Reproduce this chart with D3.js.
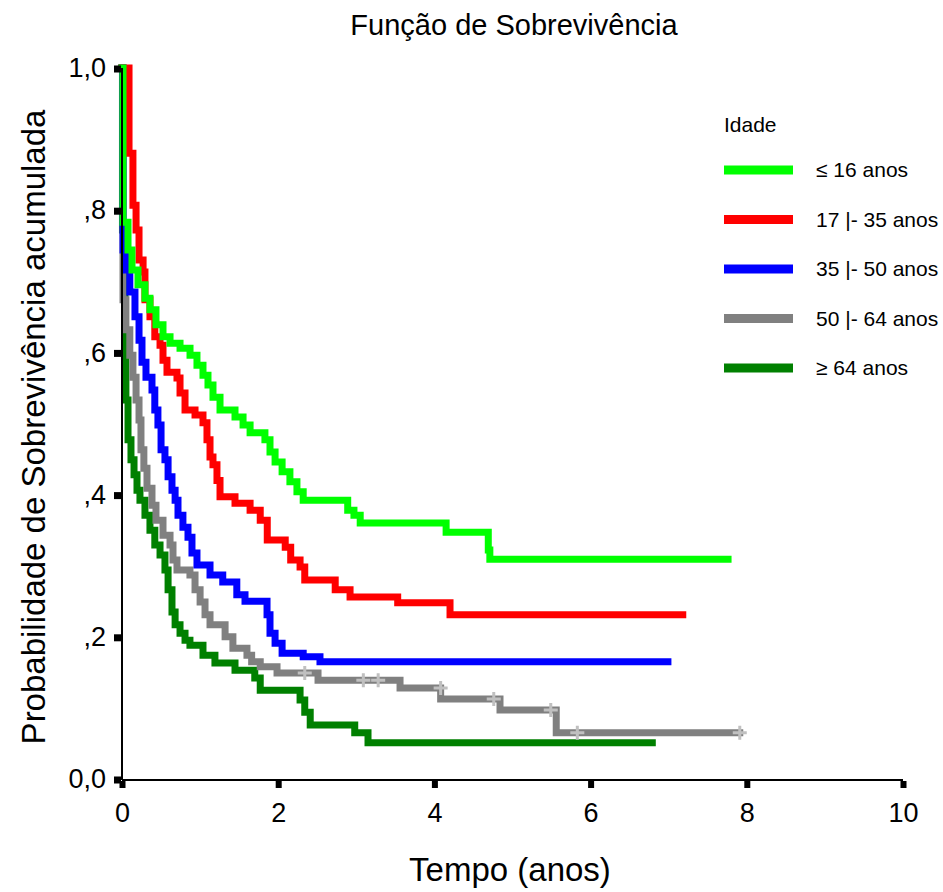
<!DOCTYPE html>
<html>
<head>
<meta charset="utf-8">
<script src="https://cdn.jsdelivr.net/npm/d3@7"></script>
<style>
  body { margin: 0; background: #fff; }
  text { font-family: "Liberation Sans", Arial, sans-serif; fill: #000; }
</style>
</head>
<body>
<div id="grafico"></div>
<script>
// Kaplan-Meier: [tempo, S(t) depois do degrau]
const ate16 = [[0,1],[0.013,0.783],[0.077,0.744],[0.128,0.716],[0.205,0.695],[0.294,0.676],[0.358,0.66],[0.435,0.639],[0.525,0.622],[0.615,0.613],[0.743,0.606],[0.871,0.596],[0.96,0.582],[1.037,0.568],[1.101,0.554],[1.165,0.537],[1.255,0.519],[1.447,0.509],[1.55,0.498],[1.64,0.487],[1.83,0.477],[1.895,0.46],[1.96,0.446],[2.05,0.432],[2.15,0.418],[2.24,0.404],[2.32,0.392],[2.89,0.378],[2.97,0.371],[3.05,0.36],[4.15,0.347],[4.69,0.322],[4.71,0.309],[7.76,0.309]];
const de17a35 = [[0,1],[0.09,0.88],[0.14,0.807],[0.18,0.772],[0.218,0.73],[0.27,0.713],[0.294,0.674],[0.358,0.65],[0.42,0.622],[0.487,0.61],[0.525,0.589],[0.576,0.572],[0.704,0.564],[0.743,0.543],[0.807,0.519],[0.935,0.512],[1.037,0.501],[1.088,0.477],[1.127,0.453],[1.165,0.442],[1.216,0.42],[1.255,0.397],[1.447,0.388],[1.64,0.378],[1.77,0.364],[1.86,0.336],[2.09,0.326],[2.16,0.308],[2.28,0.298],[2.34,0.28],[2.73,0.266],[2.92,0.256],[3.53,0.248],[4.2,0.231],[7.18,0.231]];
const de35a50 = [[0,1],[0.013,0.744],[0.05,0.716],[0.1,0.685],[0.166,0.65],[0.218,0.617],[0.256,0.586],[0.307,0.565],[0.384,0.547],[0.42,0.519],[0.46,0.498],[0.5,0.463],[0.55,0.449],[0.59,0.425],[0.64,0.406],[0.68,0.392],[0.717,0.371],[0.78,0.354],[0.845,0.34],[0.896,0.318],[0.96,0.301],[1.127,0.287],[1.29,0.277],[1.47,0.259],[1.575,0.25],[1.857,0.231],[1.895,0.205],[1.96,0.191],[2.05,0.177],[2.32,0.172],[2.535,0.165],[6.99,0.165]];
const de50a64 = [[0,1],[0.013,0.674],[0.05,0.632],[0.1,0.596],[0.14,0.565],[0.18,0.533],[0.218,0.505],[0.243,0.463],[0.28,0.437],[0.32,0.409],[0.384,0.385],[0.435,0.364],[0.525,0.343],[0.615,0.329],[0.653,0.308],[0.704,0.294],[0.87,0.287],[0.935,0.266],[1.0,0.249],[1.063,0.231],[1.127,0.217],[1.32,0.2],[1.42,0.184],[1.6,0.174],[1.66,0.165],[1.77,0.158],[1.985,0.149],[2.51,0.139],[3.56,0.128],[4.08,0.1125],[4.84,0.097],[5.56,0.065],[7.91,0.065]];
const acima64 = [[0,1],[0.006,0.772],[0.025,0.688],[0.038,0.603],[0.05,0.533],[0.077,0.477],[0.115,0.449],[0.154,0.428],[0.192,0.406],[0.23,0.392],[0.294,0.371],[0.358,0.35],[0.42,0.329],[0.487,0.315],[0.55,0.294],[0.59,0.266],[0.64,0.235],[0.68,0.217],[0.743,0.205],[0.807,0.195],[0.87,0.188],[1.037,0.174],[1.19,0.163],[1.447,0.153],[1.7,0.142],[1.77,0.125],[2.28,0.111],[2.34,0.094],[2.41,0.076],[2.98,0.065],[3.15,0.051],[6.79,0.051]];
// censuras (grupo 50 |- 64)
const censuras = [[2.34,0.149],[3.09,0.139],[3.28,0.139],[4.08,0.128],[4.76,0.1125],[5.49,0.097],[5.83,0.065],[7.91,0.065]];

const grupos = ["\u2264 16 anos", "17 |- 35 anos", "35 |- 50 anos", "50 |- 64 anos", "\u2265 64 anos"];
const cores = ["#00ff00", "#ff0000", "#0000ff", "#808080", "#008000"];
const series = [ate16, de17a35, de35a50, de50a64, acima64];
const xTicks = [0, 2, 4, 6, 8, 10];
const yTicks = [0, 0.2, 0.4, 0.6, 0.8, 1.0];
const yLabels = ["0,0", ",2", ",4", ",6", ",8", "1,0"];

const width = 943, height = 892;
const svg = d3.select("#grafico").append("svg")
  .attr("width", width).attr("height", height);

const x = d3.scaleLinear().domain([0, 10]).range([122, 903]);
const y = d3.scaleLinear().domain([0, 1]).range([779, 68]);

// titulo
svg.append("text").attr("x", 514).attr("y", 35).attr("text-anchor", "middle")
  .style("font-size", "29px").text("Função de Sobrevivência");

// curvas (desenha de tras para frente)
const linha = d3.line().x(d => x(d[0])).y(d => y(d[1])).curve(d3.curveStepAfter);
for (let i = series.length - 1; i >= 0; i--) {
  svg.append("path").datum(series[i])
    .attr("d", linha)
    .attr("fill", "none")
    .attr("stroke", cores[i])
    .attr("stroke-width", 7)
    .attr("stroke-linejoin", "miter")
    .attr("stroke-linecap", "square");
}

// marcas de censura
svg.append("g").selectAll("path").data(censuras).enter().append("path")
  .attr("d", d => {
    const cx = x(d[0]), cy = y(d[1]), r = 7;
    return `M${cx - r},${cy}H${cx + r}M${cx},${cy - r}V${cy + r}`;
  })
  .attr("stroke", "#c0c0c0").attr("stroke-width", 3).attr("fill", "none");

// eixos
const xAxis = d3.axisBottom(x).tickValues(xTicks).tickSize(0).tickPadding(23);
const gx = svg.append("g").attr("transform", "translate(0,780)").call(xAxis);
gx.select(".domain").attr("stroke", "#000").attr("stroke-width", 2).attr("d", `M${x(0)},0H${x(10)}`);
gx.selectAll(".tick text").style("font-size", "27px").attr("fill", "#000");
gx.selectAll(".tick").append("rect").attr("x", -3).attr("y", 1).attr("width", 6).attr("height", 7).attr("fill", "#000");

const yAxis = d3.axisLeft(y).tickValues(yTicks).tickSize(0).tickPadding(16)
  .tickFormat((d, i) => yLabels[i]);
const gy = svg.append("g").attr("transform", "translate(122,0)").call(yAxis);
gy.select(".domain").attr("stroke", "#000").attr("stroke-width", 2).attr("d", `M0,${y(1)}V780`);
gy.selectAll(".tick text").style("font-size", "27px").attr("fill", "#000");
gy.selectAll(".tick").append("rect").attr("x", -8).attr("y", -3).attr("width", 7).attr("height", 7).attr("fill", "#000");

// rotulos dos eixos
svg.append("text").attr("x", 510).attr("y", 881).attr("text-anchor", "middle")
  .style("font-size", "33px").text("Tempo (anos)");
svg.append("text").attr("transform", "translate(45,427) rotate(-90)").attr("text-anchor", "middle")
  .style("font-size", "33px").text("Probabilidade de Sobrevivência acumulada");

// legenda
const leg = svg.append("g");
leg.append("text").attr("x", 724).attr("y", 132).style("font-size", "21px").text("Idade");
grupos.forEach((g, i) => {
  const ly = 170 + i * 49.5;
  leg.append("line").attr("x1", 724).attr("x2", 793).attr("y1", ly).attr("y2", ly)
    .attr("stroke", cores[i]).attr("stroke-width", 9);
  leg.append("text").attr("x", 816).attr("y", ly + 7).style("font-size", "21px").text(g);
});
</script>
</body>
</html>
